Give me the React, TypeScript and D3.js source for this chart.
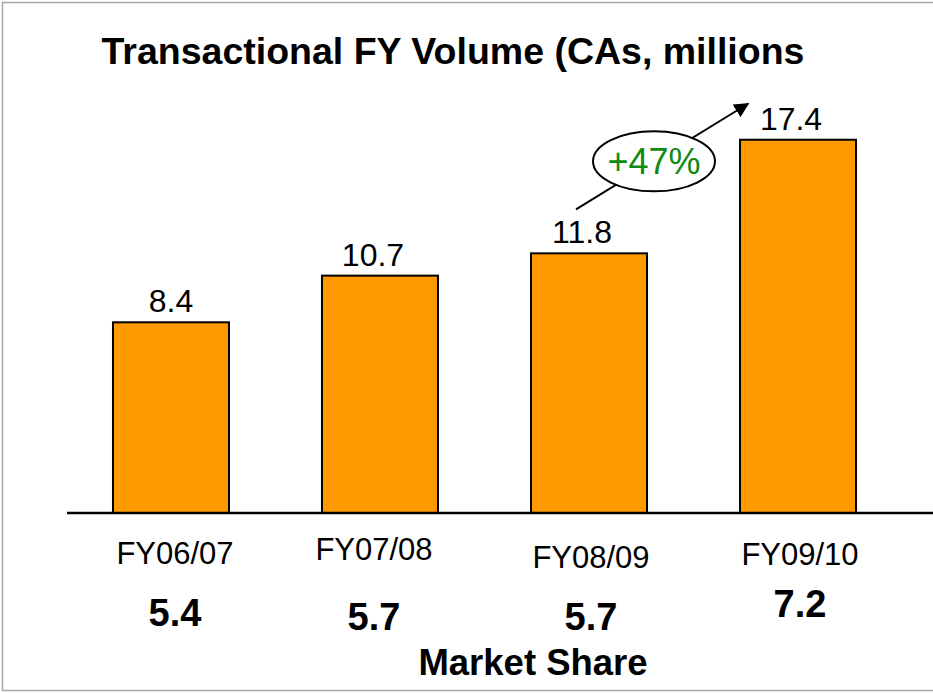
import { useEffect, useRef } from "react";
import * as d3 from "d3";

const categories = ["FY06/07", "FY07/08", "FY08/09", "FY09/10"];
const volumes = [8.4, 10.7, 11.8, 17.4];
const volumeLabels = ["8.4", "10.7", "11.8", "17.4"];
const marketShare = ["5.4", "5.7", "5.7", "7.2"];
const growthLabel = "+47%";
const title = "Transactional FY Volume (CAs, millions";
const footer = "Market Share";

// small vertical nudges of the category / share labels, as in the slide
const catNudge = [0, -4, 4, 1];
const shareNudge = [9, 13, 13, 0];
const catDx = [4, -6, 2, 2];

const FONT = "'Liberation Sans', Arial, Helvetica, sans-serif";

const App = () => {
    const ref = useRef<SVGSVGElement>(null);

    useEffect(() => {
        const svg = d3.select(ref.current);
        svg.selectAll("*").remove();

        const x = d3.scaleBand<string>()
            .domain(categories)
            .range([67, 902])
            .paddingInner(0.445)
            .paddingOuter(0.22);
        const y = d3.scaleLinear()
            .domain([-1, 20])
            .range([513, 87]);
        const base = y(-1);

        // slide frame
        svg.append("rect")
            .attr("x", 2.5)
            .attr("y", 2.5)
            .attr("width", 940)
            .attr("height", 688)
            .attr("fill", "white")
            .attr("stroke", "#a6a6a6")
            .attr("stroke-width", 1.5);

        svg.append("text")
            .attr("x", 453)
            .attr("y", 64)
            .attr("text-anchor", "middle")
            .style("font-family", FONT)
            .style("font-weight", "bold")
            .style("font-size", "37.5px")
            .text(title);

        svg.append("g")
            .selectAll("rect")
            .data(volumes)
            .enter()
            .append("rect")
                .attr("x", (d, i) => x(categories[i])!)
                .attr("y", (d) => y(d))
                .attr("width", x.bandwidth())
                .attr("height", (d) => base - y(d))
                .attr("fill", "#ff9900")
                .attr("stroke", "black")
                .attr("stroke-width", 2);

        svg.append("line")
            .attr("x1", 67)
            .attr("x2", 933)
            .attr("y1", base)
            .attr("y2", base)
            .attr("stroke", "black")
            .attr("stroke-width", 2.5);

        svg.append("g")
            .selectAll("text")
            .data(volumes)
            .enter()
            .append("text")
                .attr("x", (d, i) => x(categories[i])! + x.bandwidth() / 2 - (i === 0 ? 0 : 7))
                .attr("y", (d) => y(d) - 10)
                .attr("text-anchor", "middle")
                .style("font-family", FONT)
                .style("font-size", "32px")
                .text((d, i) => volumeLabels[i]);

        svg.append("g")
            .selectAll("text")
            .data(categories)
            .enter()
            .append("text")
                .attr("x", (d, i) => x(d)! + x.bandwidth() / 2 + catDx[i])
                .attr("y", (d, i) => base + 51 + catNudge[i])
                .attr("text-anchor", "middle")
                .style("font-family", FONT)
                .style("font-size", "31px")
                .text((d) => d);

        svg.append("g")
            .selectAll("text")
            .data(marketShare)
            .enter()
            .append("text")
                .attr("x", (d, i) => x(categories[i])! + x.bandwidth() / 2 + catDx[i])
                .attr("y", (d, i) => base + 104 + shareNudge[i])
                .attr("text-anchor", "middle")
                .style("font-family", FONT)
                .style("font-weight", "bold")
                .style("font-size", "38px")
                .text((d) => d);

        svg.append("text")
            .attr("x", 533)
            .attr("y", 675)
            .attr("text-anchor", "middle")
            .style("font-family", FONT)
            .style("font-weight", "bold")
            .style("font-size", "36.5px")
            .text(footer);

        // growth arrow from bar 3 label to bar 4 label
        svg.append("defs")
            .append("marker")
            .attr("id", "arrowhead")
            .attr("viewBox", "0 0 10 10")
            .attr("refX", 9)
            .attr("refY", 5)
            .attr("markerWidth", 7.5)
            .attr("markerHeight", 7.5)
            .attr("markerUnits", "strokeWidth")
            .attr("orient", "auto")
            .append("path")
                .attr("d", "M0,0 L10,5 L0,10 z")
                .attr("fill", "black");

        const x3 = x(categories[2])! + x.bandwidth() / 2;
        const x4 = x(categories[3])! + x.bandwidth() / 2;
        const ax1 = x3 - 13;
        const ay1 = y(volumes[2]) - 44;
        const ax2 = x4 - 50;
        const ay2 = y(volumes[3]) - 36;
        svg.append("line")
            .attr("x1", ax1)
            .attr("y1", ay1)
            .attr("x2", ax2)
            .attr("y2", ay2)
            .attr("stroke", "black")
            .attr("stroke-width", 2)
            .attr("marker-end", "url(#arrowhead)");

        const ex = x3 + 65;
        const ey = y(volumes[2]) - 92;
        svg.append("ellipse")
            .attr("cx", ex)
            .attr("cy", ey)
            .attr("rx", 61)
            .attr("ry", 30)
            .attr("fill", "white")
            .attr("stroke", "black")
            .attr("stroke-width", 2);
        svg.append("text")
            .attr("x", ex)
            .attr("y", ey + 13)
            .attr("text-anchor", "middle")
            .style("font-family", FONT)
            .style("font-size", "36px")
            .attr("fill", "#118a11")
            .text(growthLabel);
    });

    return (
        <svg
            ref={ref}
            width={933}
            height={693}
            style={{ position: "absolute", left: 0, top: 0, background: "white" }}
        />
    );
};

export default App;
